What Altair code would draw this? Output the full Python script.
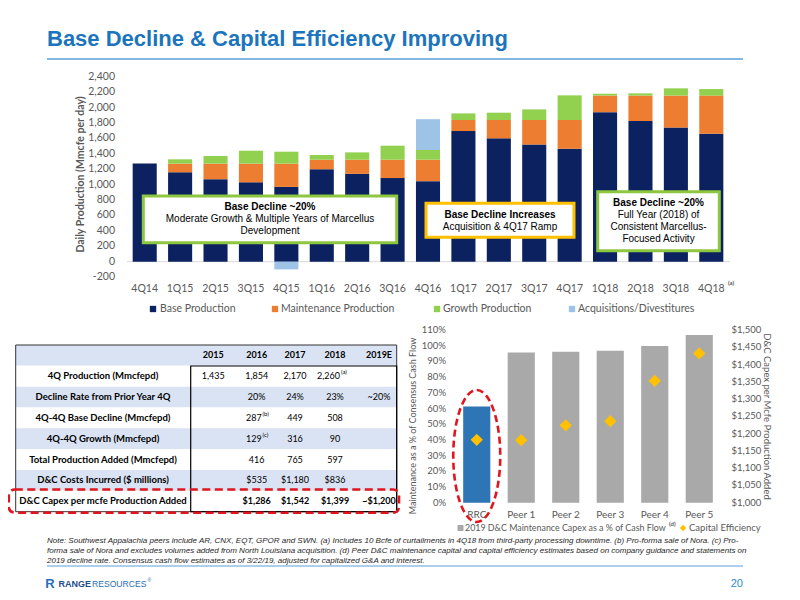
import altair as alt
import pandas as pd

# ---------------- data ----------------
quarters = ["4Q14", "1Q15", "2Q15", "3Q15", "4Q15", "1Q16", "2Q16", "3Q16", "4Q16",
            "1Q17", "2Q17", "3Q17", "4Q17", "1Q18", "2Q18", "3Q18", "4Q18"]
base_production = [1275, 1160, 1070, 1030, 970, 1200, 1140, 1085, 1045,
                   1695, 1600, 1520, 1465, 1940, 1825, 1740, 1660]
maintenance_production = [0, 112, 202, 242, 302, 123, 183, 238, 278,
                          143, 238, 318, 373, 215, 330, 415, 495]
growth_production = [0, 56, 99, 168, 155, 61, 95, 182, 126,
                     86, 95, 138, 320, 24, 29, 94, 85]
acquisitions_divestitures = [0, 0, 0, 0, -100, 0, 0, 0, 400,
                             0, 0, 0, 0, 0, 0, 0, 0]
series_names = ["Base Production", "Maintenance Production", "Growth Production",
                "Acquisitions/Divestitures"]
series_colors = ["#0B2160", "#ED7D31", "#92D050", "#9DC3E6"]
prod_ticks = list(range(-200, 2401, 200))

companies = ["RRC", "Peer 1", "Peer 2", "Peer 3", "Peer 4", "Peer 5"]
maint_capex_pct = [61.2, 95.6, 96.2, 96.8, 99.8, 106.8]
capital_efficiency = [1182, 1181, 1224, 1236, 1353, 1432]
company_colors = ["#2E75B6", "#A9A9A9", "#A9A9A9", "#A9A9A9", "#A9A9A9", "#A9A9A9"]
pct_ticks = list(range(0, 111, 10))
usd_ticks = list(range(1000, 1501, 50))

table_years = ["2015", "2016", "2017", "2018", "2019E"]
table_labels = ["4Q Production (Mmcfepd)", "Decline Rate from Prior Year 4Q",
                "4Q-4Q Base Decline (Mmcfepd)", "4Q-4Q Growth (Mmcfepd)",
                "Total Production Added (Mmcfepd)", "D&C Costs Incurred ($ millions)",
                "D&C Capex per mcfe Production Added"]
table_values = [
    ["1,435", "1,854", "2,170", "2,260", ""],
    ["", "20%", "24%", "23%", "~20%"],
    ["", "287", "449", "508", ""],
    ["", "129", "316", "90", ""],
    ["", "416", "765", "597", ""],
    ["", "$535", "$1,180", "$836", ""],
    ["", "$1,286", "$1,542", "$1,399", "~$1,200"],
]
table_notes = {(1, "2018"): "(a)", (3, "2016"): "(b)", (4, "2016"): "(c)"}

title_text = "Base Decline & Capital Efficiency Improving"
footnote_lines = [
    "Note: Southwest Appalachia peers include AR, CNX, EQT, GPOR and SWN. (a) Includes 10 Bcfe of curtailments in 4Q18 from third-party processing downtime. (b) Pro-forma sale of Nora. (c) Pro-",
    "forma sale of Nora and excludes volumes added from North Louisiana acquisition. (d) Peer D&C maintenance capital and capital efficiency estimates based on company guidance and statements on",
    "2019 decline rate. Consensus cash flow estimates as of 3/22/19, adjusted for capitalized G&A and interest.",
]

# ---------------- helpers ----------------
OFF = 8


def P(v):
    return v - OFF


ONE = pd.DataFrame({"a": [0]})
LATO = "Lato"
ARIAL = "Liberation Sans"
GRAY = "#595959"


def txt(s, x, y, size=10, bold=False, color="black", align="center", font=LATO,
        angle=0, italic=False, baseline="middle"):
    kw = dict(text=s, fontSize=size, fontWeight="bold" if bold else "normal",
              color=color, align=align, baseline=baseline, font=font)
    if angle:
        kw["angle"] = angle
    if italic:
        kw["fontStyle"] = "italic"
    return alt.Chart(ONE).mark_text(**kw).encode(x=alt.value(P(x)), y=alt.value(P(y)))


def box(x0, y0, x1, y1, stroke, width=1, fill="white", dash=None, radius=0, fill_op=1):
    kw = dict(stroke=stroke, strokeWidth=width, fill=fill, fillOpacity=fill_op)
    if dash:
        kw["strokeDash"] = dash
    if radius:
        kw["cornerRadius"] = radius
    return alt.Chart(ONE).mark_rect(**kw).encode(
        x=alt.value(P(x0)), x2=alt.value(P(x1)), y=alt.value(P(y0)), y2=alt.value(P(y1)))


def hline(x0, x1, y, color, width=1):
    return alt.Chart(ONE).mark_rule(color=color, strokeWidth=width).encode(
        x=alt.value(P(x0)), x2=alt.value(P(x1)), y=alt.value(P(y)))


layers = []

# ---------------- title ----------------
layers.append(txt(title_text, 47, 46, size=22, bold=True, color="#1C75BC", align="left",
                  font=ARIAL, baseline="alphabetic"))
layers.append(hline(47, 743, 59, "#5AA0D8", 1.5))

# ---------------- top chart ----------------
x_top = alt.Scale(domain=quarters, range=[P(127), P(729)], paddingInner=0.32, paddingOuter=0.16)
y_top = alt.Scale(domain=[-200, 2400], range=[P(277.1), P(76.7)], nice=False, zero=False)

rows = []
for i, q in enumerate(quarters):
    for k, vals in enumerate([base_production, maintenance_production, growth_production,
                              acquisitions_divestitures]):
        if vals[i] != 0:
            rows.append({"quarter": q, "series": series_names[k], "k": k, "value": vals[i]})
df_top = pd.DataFrame(rows)

layers.append(alt.Chart(pd.DataFrame({"v": [0]})).mark_rule(color="#D9D9D9", strokeWidth=1).encode(
    y=alt.Y("v:Q", scale=y_top, axis=None), x=alt.value(P(127)), x2=alt.value(P(730))))

layers.append(alt.Chart(df_top).mark_bar().encode(
    x=alt.X("quarter:N", scale=x_top, axis=None),
    y=alt.Y("value:Q", scale=y_top, axis=None, stack="zero"),
    color=alt.Color("series:N", scale=alt.Scale(domain=series_names, range=series_colors), legend=None),
    order=alt.Order("k:Q"),
))

df_yt = pd.DataFrame({"v": prod_ticks, "label": [f"{t:,}" for t in prod_ticks]})
layers.append(alt.Chart(df_yt).mark_text(font=LATO, fontSize=10.5, color=GRAY, align="right",
                                         baseline="middle").encode(
    y=alt.Y("v:Q", scale=y_top, axis=None), x=alt.value(P(115)), text="label:N"))

layers.append(alt.Chart(pd.DataFrame({"quarter": quarters})).mark_text(
    font=LATO, fontSize=10.5, color=GRAY, baseline="middle").encode(
    x=alt.X("quarter:N", scale=x_top, axis=None), y=alt.value(P(289)), text="quarter:N"))
layers.append(txt("(a)", 728, 283, size=6, bold=True, color=GRAY, align="left"))

layers.append(txt("Daily Production (Mmcfe per day)", 81, 174.5, size=10.5, bold=True,
                  color=GRAY, angle=270))

# legend top
leg_sq = [153, 275, 437, 572]
leg_tx = [160, 281, 443, 578]
for name, col, sx, tx in zip(series_names, series_colors, leg_sq, leg_tx):
    layers.append(alt.Chart(ONE).mark_point(shape="square", filled=True, size=40, color=col,
                                            opacity=1).encode(x=alt.value(P(sx)), y=alt.value(P(309))))
    layers.append(txt(name, tx, 309, size=10.5, color=GRAY, align="left"))

# annotation boxes
layers.append(box(143.3, 196, 396.7, 242.7, "#8DC63F", 3))
layers.append(txt("Base Decline ~20%", 270, 206.7, size=10, bold=True, font=ARIAL))
layers.append(txt("Moderate Growth & Multiple Years of Marcellus", 270, 219.3, size=10, font=ARIAL))
layers.append(txt("Development", 270, 231, size=10, font=ARIAL))

layers.append(box(426, 203.3, 574, 237.3, "#FFC000", 3))
layers.append(txt("Base Decline Increases", 500, 215, size=10, bold=True, font=ARIAL))
layers.append(txt("Acquisition & 4Q17 Ramp", 500, 226.7, size=10, font=ARIAL))

layers.append(box(597.7, 191.7, 719.3, 250.7, "#8DC63F", 3))
layers.append(txt("Base Decline ~20%", 658.5, 203.3, size=10, bold=True, font=ARIAL))
layers.append(txt("Full Year (2018) of", 658.5, 215, size=10, font=ARIAL))
layers.append(txt("Consistent Marcellus-", 658.5, 226.7, size=10, font=ARIAL))
layers.append(txt("Focused Activity", 658.5, 239, size=10, font=ARIAL))

# ---------------- table ----------------
y_tab = alt.Scale(domain=[-0.5, 7.5], range=[P(345), P(511.7)], nice=False, zero=False)
df_rows = pd.DataFrame({"r": list(range(8)),
                        "shade": ["blue" if r % 2 == 0 else "white" for r in range(8)]})
layers.append(alt.Chart(df_rows).transform_calculate(top="datum.r - 0.5", bot="datum.r + 0.5").mark_rect().encode(
    y=alt.Y("top:Q", scale=y_tab, axis=None), y2="bot:Q",
    x=alt.value(P(15.7)), x2=alt.value(P(396.7)),
    color=alt.Color("shade:N", scale=alt.Scale(domain=["blue", "white"], range=["#DAE3F3", "#FFFFFF"]),
                    legend=None)))
layers.append(box(15.7, 345, 396.7, 511.7, "#333333", 1, fill="white", fill_op=0))
layers.append(box(190.7, 366, 396.7, 511.7, "#000000", 1.2, fill="white", fill_op=0))

col_x = {"label": 103, "2015": 213.3, "2016": 256.7, "2017": 295, "2018": 335, "2019E": 379}
cells = []
for j, yr in enumerate(table_years):
    cells.append({"r": 0, "col": yr, "text": yr, "bold": True})
for i, lab in enumerate(table_labels):
    r = i + 1
    cells.append({"r": r, "col": "label", "text": lab, "bold": True})
    for j, yr in enumerate(table_years):
        v = table_values[i][j]
        if v and (r, yr) not in table_notes:
            cells.append({"r": r, "col": yr, "text": v, "bold": r == 7})
df_cells = pd.DataFrame(cells)
for col, cx in col_x.items():
    for b in [True, False]:
        sub = df_cells[(df_cells["col"] == col) & (df_cells["bold"] == b)]
        if len(sub) == 0:
            continue
        size = 9.5 if col == "label" else 9
        layers.append(alt.Chart(sub).mark_text(font=LATO, fontSize=size,
                                               fontWeight="bold" if b else "normal",
                                               color="black", baseline="middle").encode(
            x=alt.value(P(cx)), y=alt.Y("r:Q", scale=y_tab, axis=None), text="text:N"))

# cells with footnote superscripts
note_pos = {(1, "2018"): (340, 341), (3, "2016"): (261.7, 262.5), (4, "2016"): (261.7, 262.5)}
for (r, yr), mark in table_notes.items():
    val = table_values[r - 1][table_years.index(yr)]
    xr, xs = note_pos[(r, yr)]
    d = pd.DataFrame({"r": [r], "text": [val], "sup": [mark]})
    layers.append(alt.Chart(d).mark_text(font=LATO, fontSize=9, color="black", align="right",
                                         baseline="middle").encode(
        x=alt.value(P(xr)), y=alt.Y("r:Q", scale=y_tab, axis=None), text="text:N"))
    layers.append(alt.Chart(d).mark_text(font=LATO, fontSize=6, color="black", align="left",
                                         baseline="middle", dy=-4).encode(
        x=alt.value(P(xs)), y=alt.Y("r:Q", scale=y_tab, axis=None), text="sup:N"))

# red dashed highlight
layers.append(box(8.8, 489.5, 399, 512.7, "#E0161E", 2.6, fill="white", fill_op=0,
                  dash=[8, 4.5], radius=6))

# ---------------- bottom-right chart ----------------
x_bot = alt.Scale(domain=companies, range=[P(454.5), P(721.5)], paddingInner=0.39, paddingOuter=0.195)
y_pct = alt.Scale(domain=[0, 110], range=[P(502.7), P(330)], nice=False, zero=False)
y_usd = alt.Scale(domain=[1000, 1500], range=[P(502.7), P(330)], nice=False, zero=False)

df_b = pd.DataFrame({"company": companies, "pct": maint_capex_pct, "eff": capital_efficiency})
layers.append(alt.Chart(df_b).mark_bar().encode(
    x=alt.X("company:N", scale=x_bot, axis=None),
    y=alt.Y("pct:Q", scale=y_pct, axis=None),
    color=alt.Color("company:N", scale=alt.Scale(domain=companies, range=company_colors), legend=None)))
layers.append(alt.Chart(df_b).mark_point(shape="diamond", filled=True, size=150, color="#FFC000",
                                         opacity=1).encode(
    x=alt.X("company:N", scale=x_bot, axis=None),
    y=alt.Y("eff:Q", scale=y_usd, axis=None)))
layers.append(alt.Chart(df_b).mark_text(font=LATO, fontSize=10, color=GRAY, baseline="middle").encode(
    x=alt.X("company:N", scale=x_bot, axis=None), y=alt.value(P(515)), text="company:N"))

df_pt = pd.DataFrame({"v": pct_ticks, "label": [f"{t}%" for t in pct_ticks]})
layers.append(alt.Chart(df_pt).mark_text(font=LATO, fontSize=9.5, color=GRAY, align="right",
                                         baseline="middle").encode(
    y=alt.Y("v:Q", scale=y_pct, axis=None), x=alt.value(P(446)), text="label:N"))
df_ut = pd.DataFrame({"v": usd_ticks, "label": [f"${t:,}" for t in usd_ticks]})
layers.append(alt.Chart(df_ut).mark_text(font=LATO, fontSize=9.5, color=GRAY, align="left",
                                         baseline="middle").encode(
    y=alt.Y("v:Q", scale=y_usd, axis=None), x=alt.value(P(731.5)), text="label:N"))

layers.append(txt("Maintenance as a % of Consensus Cash Flow", 413, 426, size=9, color=GRAY, angle=270))
layers.append(txt("D&C Capex per Mcfe Production Added", 767, 416.5, size=9.5, color=GRAY, angle=90))

# red dashed ellipse around RRC
ellipse = ("M 0 -1 C 0.1966 -1 0.356 -0.5523 0.356 0 C 0.356 0.5523 0.1966 1 0 1 "
           "C -0.1966 1 -0.356 0.5523 -0.356 0 C -0.356 -0.5523 -0.1966 -1 0 -1 Z")
layers.append(alt.Chart(pd.DataFrame({"company": ["RRC"]})).mark_point(
    shape=ellipse, filled=False, size=132 * 132, color="#E0161E", strokeWidth=2.6,
    strokeDash=[7, 4], opacity=1).encode(
    x=alt.X("company:N", scale=x_bot, axis=None), y=alt.value(P(456))))

# bottom legend
layers.append(alt.Chart(ONE).mark_point(shape="square", filled=True, size=36, color="#A9A9A9",
                                        opacity=1).encode(x=alt.value(P(460.5)), y=alt.value(P(528))))
layers.append(txt("2019 D&C Maintenance Capex as a % of Cash Flow", 465, 528, size=8.9, color=GRAY,
                  align="left"))
layers.append(txt("(d)", 669, 524, size=6, bold=True, color=GRAY, align="left"))
layers.append(alt.Chart(ONE).mark_point(shape="diamond", filled=True, size=40, color="#FFC000",
                                        opacity=1).encode(x=alt.value(P(683)), y=alt.value(P(528))))
layers.append(txt("Capital Efficiency", 689, 528, size=9.5, color=GRAY, align="left"))

# ---------------- footnote & footer ----------------
for k, line in enumerate(footnote_lines):
    layers.append(txt(line, 47, 541 + 10 * k, size=8.0, color="#262626", align="left",
                      font=ARIAL, italic=True))
layers.append(hline(47, 743, 566, "#5AA0D8", 1.2))

layers.append(txt("R", 50, 583.5, size=13, bold=True, color="#2A6EBB", font=ARIAL))
layers.append(txt("RANGE", 58.5, 583.5, size=9, bold=True, color="#1F4E8C", align="left", font=ARIAL))
layers.append(txt("RESOURCES", 92, 583.5, size=8.6, color="#2A6EBB", align="left", font=ARIAL))
layers.append(txt("®", 147.5, 580, size=5, color="#2A6EBB", align="left", font=ARIAL))
layers.append(txt("20", 743, 584, size=11, color="#2E8BC9", align="right", font=ARIAL))

chart = alt.layer(*layers).properties(
    width=784, height=584, padding=0,
    autosize=alt.AutoSizeParams(type="none"),
    background="white",
).resolve_scale(
    x="independent", y="independent", color="independent"
).configure_view(stroke=None)

chart.save("out.html", embed_options={"renderer": "svg", "actions": False})
